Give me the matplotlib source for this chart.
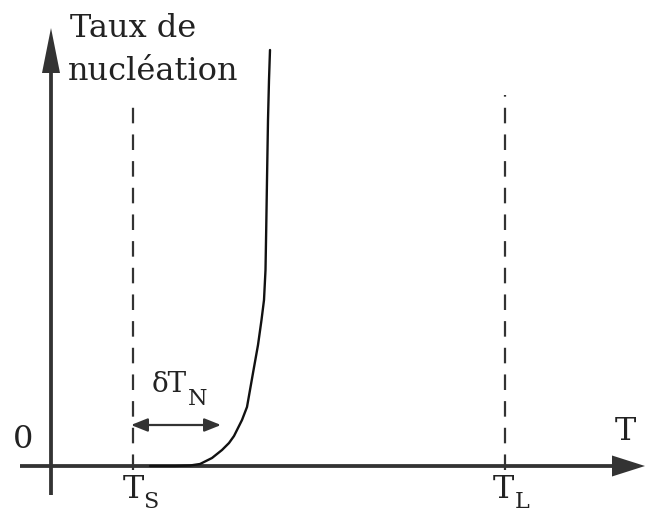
import matplotlib
matplotlib.use("Agg")
import matplotlib.pyplot as plt

# Température (axe horizontal) et taux de nucléation (axe vertical), unités arbitraires
T_S = 82
T_L = 454
dT_N = 90

curve_T = [99, 124, 139, 149, 161, 171, 178, 183, 187, 191, 196, 202, 207, 210.5,
           213, 214.5, 215.2, 216, 217, 218, 219]
curve_rate = [0, 0, 0.5, 2, 8, 16, 23, 30, 38, 46, 59, 93, 121, 146,
              166, 196, 236, 286, 346, 386, 416]

INK = "#333333"
TXT = "#222222"
SERIF = ["DejaVu Serif"]

fig = plt.figure(figsize=(6.48, 5.15), dpi=100)
ax = fig.add_axes([0, 0, 1, 1])
ax.set_xlim(-51, 597)
ax.set_ylim(-49, 466)
ax.set_aspect("equal")
ax.axis("off")

# axes avec flèches
ax.arrow(0, -29, 0, 467, width=3.8, head_width=18, head_length=45,
         length_includes_head=True, color=INK, lw=0)
ax.arrow(-31, 0, 625, 0, width=3.8, head_width=21, head_length=33,
         length_includes_head=True, color=INK, lw=0)

# verticales T_S et T_L
for t, top in [(T_S, 366), (T_L, 371)]:
    ax.plot([t, t], [-4, top], color=INK, lw=1.6, dashes=(7, 5))

# courbe de nucléation
ax.plot(curve_T, curve_rate, color="#111111", lw=1.7,
        solid_joinstyle="round", solid_capstyle="round")

# surfusion de germination
ax.annotate("", xy=(T_S - 2, 41), xytext=(T_S - 2 + dT_N, 41),
            arrowprops=dict(arrowstyle="<|-|>,head_length=1.0,head_width=0.4",
                            color=INK, lw=1.6, shrinkA=0, shrinkB=0))

big = dict(family=SERIF, color=TXT, fontsize=23, va="baseline")
small = dict(family=SERIF, color=TXT, fontsize=16, va="baseline")
ax.text(19, 429, "Taux de", ha="left", **big)
ax.text(17, 386, "nucléation", ha="left", **big)
ax.text(-38, 18, "0", ha="left", **big)
ax.text(574, 26, "T", ha="center", **big)
ax.text(101, 74, "δT", ha="left", family=SERIF, color=TXT, fontsize=20, va="baseline")
ax.text(137, 61, "N", ha="left", **small)
ax.text(72, -32, "T", ha="left", **big)
ax.text(92, -42, "S", ha="left", **small)
ax.text(T_L - 12, -32, "T", ha="left", **big)
ax.text(T_L + 10, -42, "L", ha="left", **small)

fig.savefig("out.png", dpi=100, facecolor="white")
